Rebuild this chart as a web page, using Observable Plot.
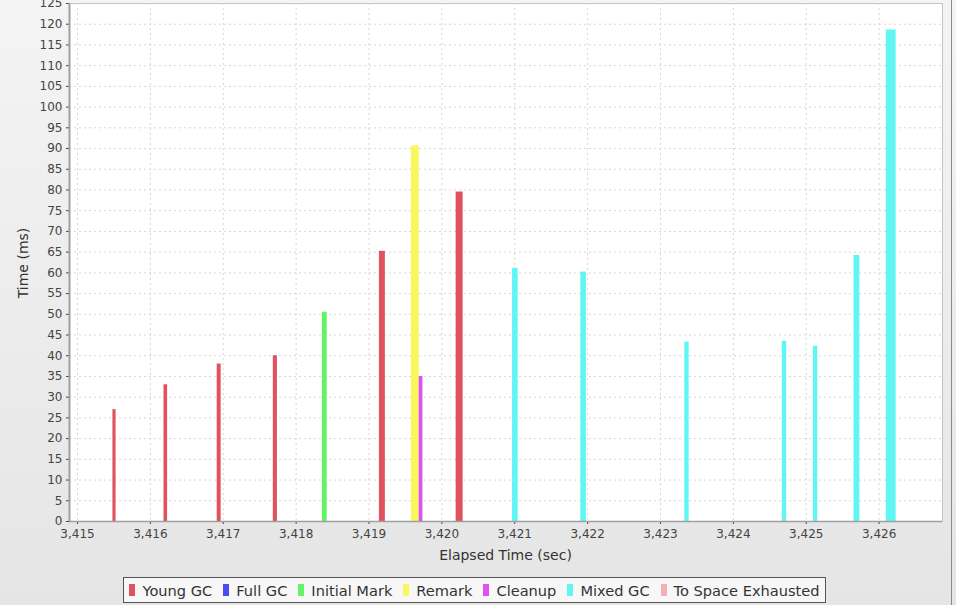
<!DOCTYPE html>
<html>
<head>
<meta charset="utf-8">
<script src="https://cdn.jsdelivr.net/npm/d3@7"></script>
<script src="https://cdn.jsdelivr.net/npm/@observablehq/plot@0.6"></script>
<style>
  html, body { margin: 0; padding: 0; }
  #wrap {
    position: relative; width: 956px; height: 605px; overflow: hidden;
    background: linear-gradient(#f4f4f4, #e5e5e5);
    font-family: "DejaVu Sans", sans-serif; color: #333;
  }
  #chart { position: absolute; left: 0; top: 0; }
  #edge { position: absolute; left: 951px; top: 0; width: 1px; height: 605px; background: #8a8a8a; }
  .axlabel { position: absolute; font-size: 14px; color: #333; white-space: nowrap; }
  #xlabel { left: 0; width: 1011px; text-align: center; top: 547px; }
  #ylabel { left: 23px; top: 263px; transform: translate(-50%, -50%) rotate(-90deg); }
  #legend {
    position: absolute; left: 123px; top: 577px; width: 703px; height: 26px;
    border: 1px solid #555; background: #f7f7f7; box-sizing: border-box;
    display: flex; align-items: center; justify-content: center;
    font-size: 14.6px; color: #333; white-space: nowrap;
  }
  .item { display: flex; align-items: center; margin: 0 5.5px; }
  .sw { width: 6px; height: 12px; margin-right: 7px; }
</style>
</head>
<body>
<div id="wrap">
  <div id="chart"></div>
  <div id="edge"></div>
  <div id="xlabel" class="axlabel">Elapsed Time (sec)</div>
  <div id="ylabel" class="axlabel">Time (ms)</div>
  <div id="legend"></div>
</div>
<script>
// Legend categories and colours
const categories = ["Young GC", "Full GC", "Initial Mark", "Remark", "Cleanup", "Mixed GC", "To Space Exhausted"];
const colors = ["#e0525e", "#4b4bf2", "#66f266", "#f8f85a", "#de52f0", "#60f6f6", "#f0b0b8"];

// GC events: type, start time (sec), pause duration (ms)
const eventTypes = ["Young GC", "Young GC", "Young GC", "Young GC", "Initial Mark", "Young GC", "Remark", "Cleanup",
                    "Young GC", "Mixed GC", "Mixed GC", "Mixed GC", "Mixed GC", "Mixed GC", "Mixed GC", "Mixed GC"];
const eventStarts = [3415.494, 3416.195, 3416.925, 3417.695, 3418.368, 3419.151, 3419.591, 3419.697,
                     3420.204, 3420.978, 3421.915, 3423.342, 3424.680, 3425.107, 3425.664, 3426.107];
const eventDurations = [27, 33, 38, 40, 50.5, 65.2, 90.6, 35,
                        79.5, 61.1, 60.2, 43.3, 43.5, 42.3, 64.2, 118.6];

// Tick labels
const xTicks = [3415, 3416, 3417, 3418, 3419, 3420, 3421, 3422, 3423, 3424, 3425, 3426];
const yTicks = [0, 5, 10, 15, 20, 25, 30, 35, 40, 45, 50, 55, 60, 65, 70, 75, 80, 85, 90, 95, 100, 105, 110, 115, 120, 125];

const events = eventStarts.map((s, i) => ({
  type: eventTypes[i], start: s, end: s + eventDurations[i] / 1000, ms: eventDurations[i]
}));

const chart = Plot.plot({
  width: 956,
  height: 562,
  marginLeft: 69,
  marginRight: 14,
  marginTop: 3,
  marginBottom: 41,
  style: { background: "transparent", fontFamily: "DejaVu Sans, sans-serif", fontSize: "12px", color: "#444" },
  x: { domain: [3414.89, 3426.87], ticks: xTicks, tickFormat: d3.format(","), tickSize: 3, tickPadding: 5, label: null },
  y: { domain: [0, 125], ticks: yTicks, tickSize: 3, tickPadding: 4, label: null },
  color: { domain: categories, range: colors },
  marks: [
    Plot.frame({ fill: "white", stroke: "#c4c4c4" }),
    Plot.ruleX(xTicks, { stroke: "#d6d6d6", strokeDasharray: "2,3" }),
    Plot.ruleY(yTicks.filter(d => d > 0 && d < 125), { stroke: "#d6d6d6", strokeDasharray: "2,3" }),
    Plot.rectY(events, { x1: "start", x2: "end", y1: 0, y2: "ms", fill: "type", insetLeft: -0.6, insetRight: -0.6 }),
    Plot.ruleX([3414.89], { stroke: "#a0a0a0", strokeWidth: 2 }),
    Plot.ruleY([0], { stroke: "#a0a0a0", strokeWidth: 1.5 })
  ]
});
document.getElementById("chart").appendChild(chart);

const legend = document.getElementById("legend");
categories.forEach((c, i) => {
  const item = document.createElement("div");
  item.className = "item";
  const sw = document.createElement("span");
  sw.className = "sw";
  sw.style.background = colors[i];
  const t = document.createElement("span");
  t.textContent = c;
  item.appendChild(sw);
  item.appendChild(t);
  legend.appendChild(item);
});
</script>
</body>
</html>
